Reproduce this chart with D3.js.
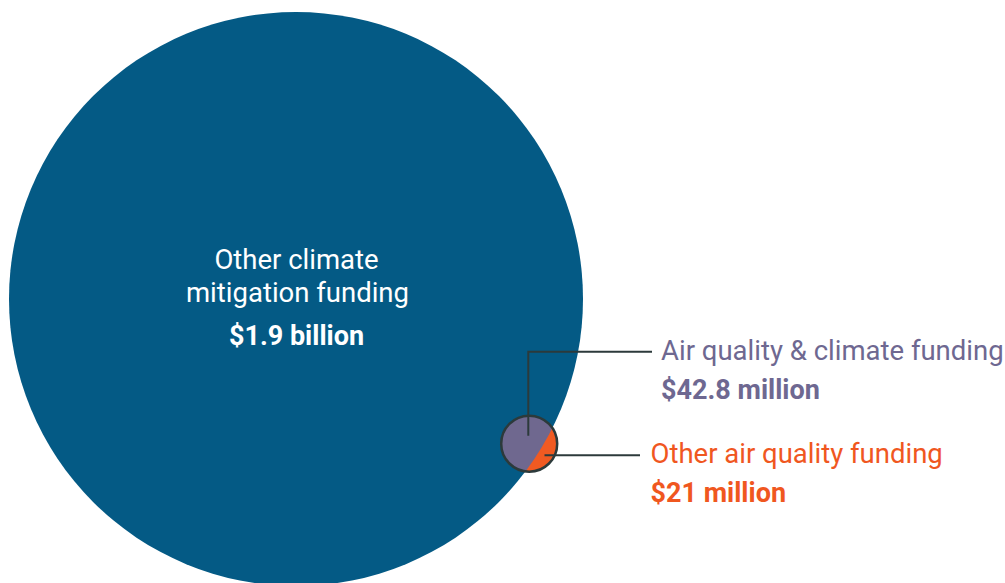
<!DOCTYPE html>
<html>
<head>
<meta charset="utf-8">
<script src="https://cdn.jsdelivr.net/npm/d3@7"></script>
<style>
  html, body { margin: 0; padding: 0; background: #ffffff; }
  svg { display: block; font-family: Roboto, "Noto Sans", sans-serif; }
</style>
</head>
<body>
<svg id="chart" width="1005" height="583"></svg>
<script>
// Funding amounts, in millions of dollars
const categories = ["Other climate mitigation funding", "Air quality & climate funding", "Other air quality funding"];
const values = [1900, 42.8, 21];
const valueLabels = ["$1.9 billion", "$42.8 million", "$21 million"];
const nameLines = [["Other climate", "mitigation funding"], ["Air quality & climate funding"], ["Other air quality funding"]];

const colors = { climate: "#045a85", shared: "#6f688f", air: "#f05a22", ink: "#2c3a3b",
                 sharedText: "#6e6891", airText: "#f0571f" };

const svg = d3.select("#chart");

// Circle radius from amount
const rScale = d3.scalePow().exponent(0.6857).domain([0, values[0]]).range([0, 287]);

const big = { cx: 296, cy: 299, r: rScale(values[0]) };
const airTotal = values[1] + values[2];
const small = { cx: 529.2, cy: 443.7, r: rScale(airTotal) };

const defs = svg.append("defs");
defs.append("clipPath").attr("id", "climate-clip")
  .append("circle").attr("cx", big.cx).attr("cy", big.cy).attr("r", big.r);

// Climate mitigation funding
svg.append("circle")
  .attr("cx", big.cx).attr("cy", big.cy).attr("r", big.r)
  .attr("fill", colors.climate);

// Air quality funding: the part outside climate funding
svg.append("circle")
  .attr("cx", small.cx).attr("cy", small.cy).attr("r", small.r)
  .attr("fill", colors.air);

// The part shared with climate funding
svg.append("circle")
  .attr("cx", small.cx).attr("cy", small.cy).attr("r", small.r)
  .attr("fill", colors.shared)
  .attr("clip-path", "url(#climate-clip)");

svg.append("circle")
  .attr("cx", small.cx).attr("cy", small.cy).attr("r", small.r)
  .attr("fill", "none")
  .attr("stroke", colors.ink)
  .attr("stroke-width", 2.5);

// Leader lines
const line = d3.line();
svg.append("path")
  .attr("d", line([[small.cx - 0.9, small.cy - 8], [small.cx - 0.9, 351.7], [652, 351.7]]))
  .attr("fill", "none").attr("stroke", colors.ink).attr("stroke-width", 2);
svg.append("path")
  .attr("d", line([[small.cx + 15.3, 455.3], [640, 455.3]]))
  .attr("fill", "none").attr("stroke", colors.ink).attr("stroke-width", 2);

// Labels
const center = svg.append("text")
  .attr("text-anchor", "middle").attr("fill", "#ffffff");
center.append("tspan").attr("x", 296.5).attr("y", 269)
  .attr("font-size", 27.5).text(nameLines[0][0]);
center.append("tspan").attr("x", 297.5).attr("y", 302)
  .attr("font-size", 27.5).text(nameLines[0][1]);
center.append("tspan").attr("x", 296.5).attr("y", 345)
  .attr("font-size", 27).attr("font-weight", 700).text(valueLabels[0]);

function sideLabel(x, y, name, value, color) {
  const t = svg.append("text").attr("fill", color);
  t.append("tspan").attr("x", x).attr("y", y).attr("font-size", 27.5).text(name);
  t.append("tspan").attr("x", x).attr("y", y + 39).attr("font-size", 27)
    .attr("font-weight", 700).text(value);
}
sideLabel(661, 360, nameLines[1][0], valueLabels[1], colors.sharedText);
sideLabel(650.5, 463, nameLines[2][0], valueLabels[2], colors.airText);
</script>
</body>
</html>
